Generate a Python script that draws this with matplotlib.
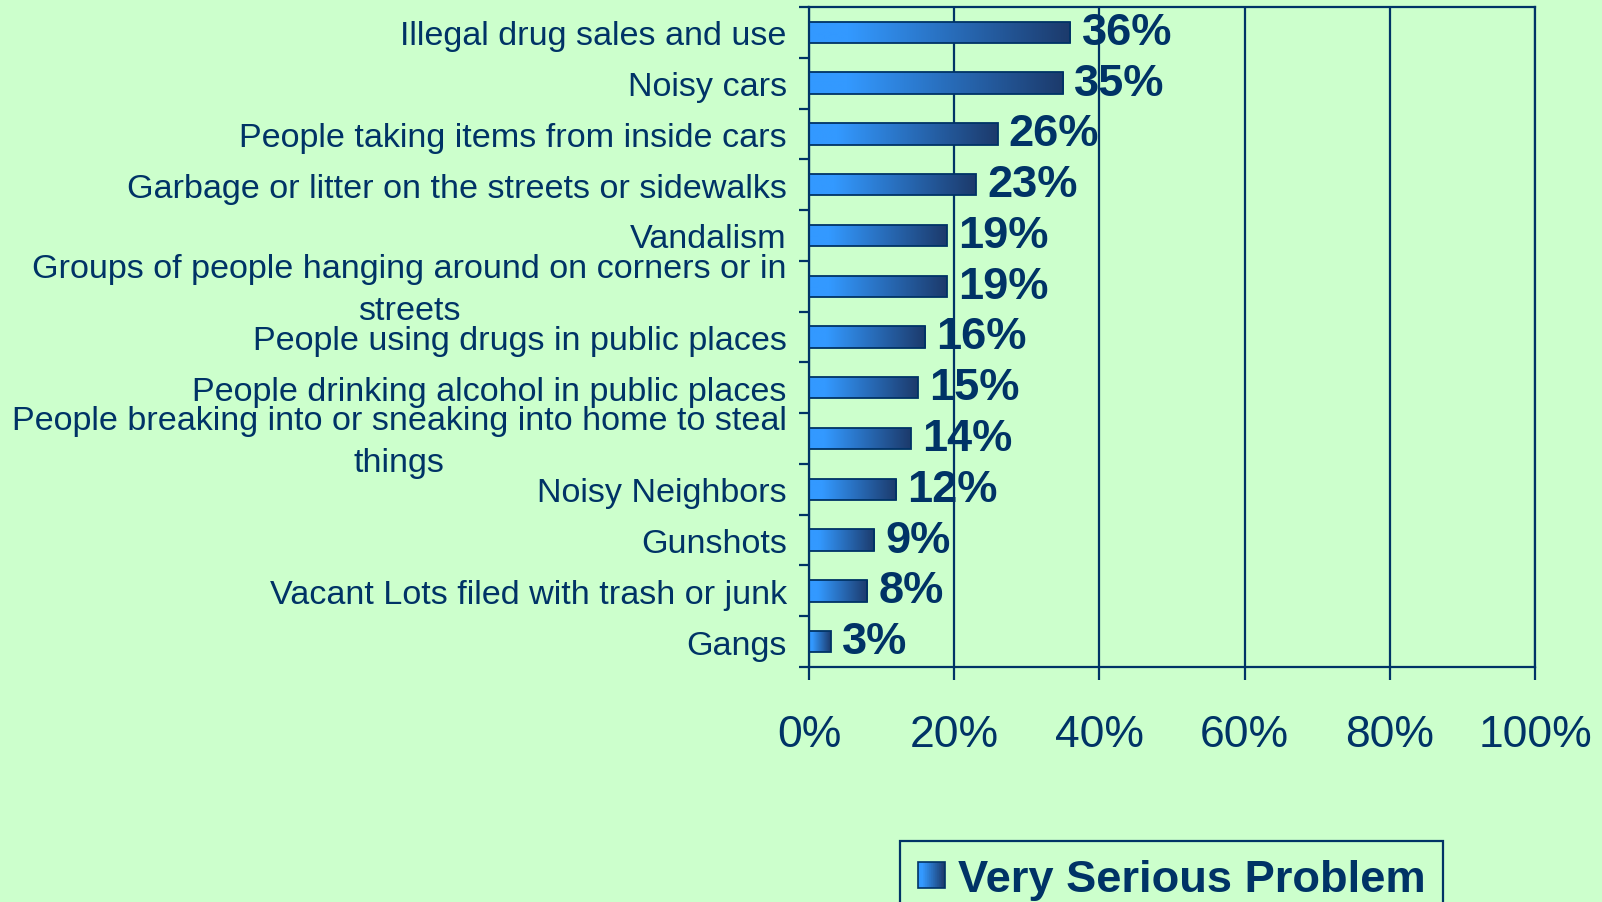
import matplotlib
matplotlib.use("Agg")
import matplotlib.pyplot as plt
import matplotlib.transforms as mtransforms
import numpy as np
from matplotlib.colors import LinearSegmentedColormap
from matplotlib.legend_handler import HandlerBase
from matplotlib.patches import Rectangle

BG = "#CCFFCC"
NAVY = "#003366"
GRAD = LinearSegmentedColormap.from_list(
    "bar", [(0.0, "#3399ff"), (0.15, "#3399ff"), (1.0, "#1c3a6b")])

categories = [
    "Illegal drug sales and use",
    "Noisy cars",
    "People taking items from inside cars",
    "Garbage or litter on the streets or sidewalks",
    "Vandalism",
    "Groups of people hanging around on corners or in\nstreets",
    "People using drugs in public places",
    "People drinking alcohol in public places",
    "People breaking into or sneaking into home to steal\nthings",
    "Noisy Neighbors",
    "Gunshots",
    "Vacant Lots filed with trash or junk",
    "Gangs",
]
values = [36, 35, 26, 23, 19, 19, 16, 15, 14, 12, 9, 8, 3]
xticks = [0, 20, 40, 60, 80, 100]
series_name = "Very Serious Problem"

plt.rcParams["font.family"] = ["Liberation Sans", "DejaVu Sans"]


class HandlerGradient(HandlerBase):
    def create_artists(self, legend, orig_handle, xdescent, ydescent,
                       width, height, fontsize, trans):
        n = 40
        side = height
        x0 = -xdescent
        y0 = -ydescent
        arts = []
        for k in range(n):
            r = Rectangle((x0 + side * k / n, y0), side / n + 0.2, side,
                          facecolor=GRAD(k / (n - 1)), edgecolor="none",
                          transform=trans)
            arts.append(r)
        arts.append(Rectangle((x0, y0), side, side, facecolor="none",
                              edgecolor=NAVY, lw=1.2, transform=trans))
        return arts


fig = plt.figure(figsize=(16.02, 9.03), dpi=100, facecolor=BG)
ax = fig.add_axes([809 / 1602, 1 - 668 / 903, 726 / 1602, 660 / 903])
ax.set_facecolor(BG)

y = np.arange(len(categories))
bars = ax.barh(y, values, height=0.42, facecolor="none", edgecolor=NAVY,
               lw=1.3, zorder=3)
grad = np.linspace(0, 1, 256).reshape(1, -1)
for p in bars.patches:
    x0, y0, w, h = p.get_x(), p.get_y(), p.get_width(), p.get_height()
    im = ax.imshow(grad, extent=(x0, x0 + w, y0 + h, y0), cmap=GRAD,
                   aspect="auto", zorder=2.5, interpolation="bilinear")
    im.set_clip_path(p)

for i, v in enumerate(values):
    ax.annotate(f"{v}%", (v, i), xytext=(8, 0), textcoords="offset points",
                va="center", ha="left", fontsize=32.5, fontweight="bold",
                color=NAVY, zorder=4)

ax.set_xlim(0, 100)
ax.set_ylim(len(categories) - 0.5, -0.5)
ax.set_xticks(xticks)
ax.set_xticklabels([f"{t}%" for t in xticks], fontsize=32, color=NAVY)
ax.tick_params(axis="x", direction="out", length=9, width=1.6, color=NAVY,
               pad=25)

ax.set_yticks(np.arange(len(categories) + 1) - 0.5)
ax.set_yticklabels([])
ax.tick_params(axis="y", which="major", direction="out", length=7,
               width=1.6, color=NAVY)
ax.set_yticks(y, minor=True)
labels = ax.set_yticklabels(categories, minor=True, fontsize=24.6, color=NAVY,
                            multialignment="center", linespacing=1.45)
ax.tick_params(axis="y", which="minor", length=0, pad=16)
# two-line labels sit a little higher in the original
shift = mtransforms.ScaledTranslation(0, 4 / 72, fig.dpi_scale_trans)
for tick in ax.yaxis.get_minor_ticks():
    if "\n" in tick.label1.get_text():
        tick.label1.set_transform(tick.label1.get_transform() + shift)

ax.grid(axis="x", color=NAVY, lw=1.6, zorder=1)
ax.set_axisbelow(True)
for s in ax.spines.values():
    s.set_color(NAVY)
    s.set_linewidth(1.6)

h = Rectangle((0, 0), 1, 1)
leg = fig.legend([h], [series_name], handler_map={Rectangle: HandlerGradient()},
                 loc="upper left", bbox_to_anchor=(900 / 1602, 1 - 842 / 903),
                 borderaxespad=0, fancybox=False, facecolor=BG, edgecolor=NAVY,
                 framealpha=1, handlelength=0.52, handleheight=0.52,
                 handletextpad=0.35, borderpad=0.4,
                 prop={"size": 32.6, "weight": "bold"})
for t in leg.get_texts():
    t.set_color(NAVY)
leg.get_frame().set_linewidth(1.6)

fig.savefig("out.png", dpi=100, facecolor=BG)
